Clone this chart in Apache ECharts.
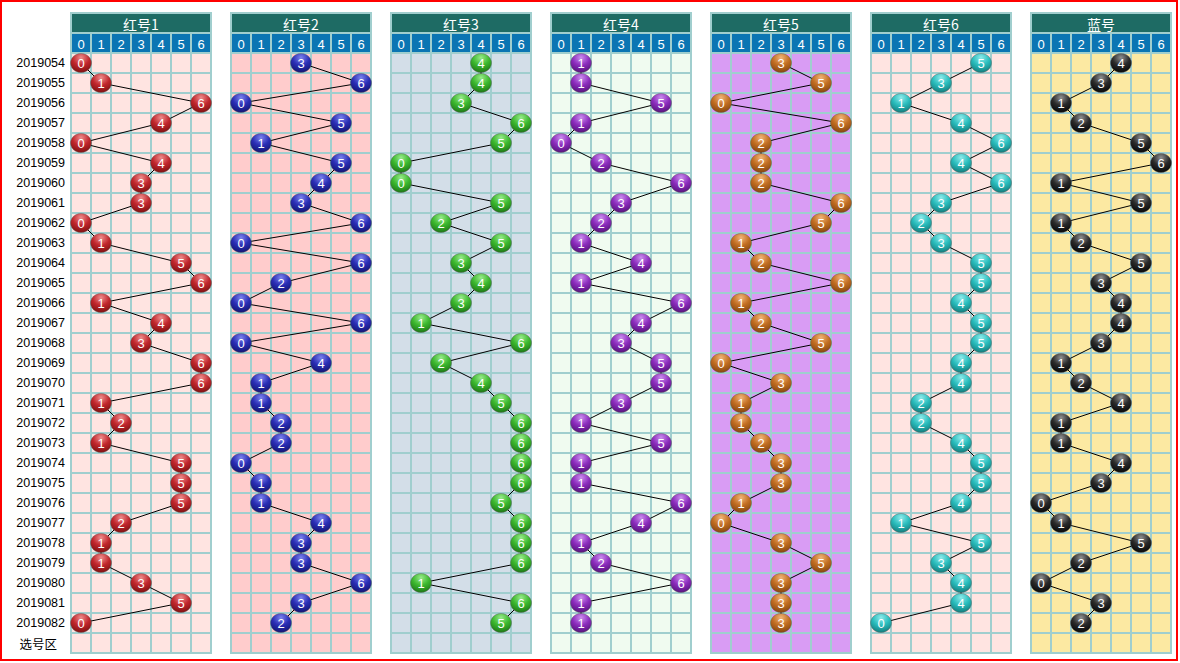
<!DOCTYPE html>
<html><head><meta charset="utf-8">
<script src="https://cdn.jsdelivr.net/npm/echarts@6/dist/echarts.min.js"></script>
<style>html,body{margin:0;padding:0;background:#fff}#c{width:1180px;height:663px}</style>
</head><body><div id="c"></div><script>
const periods = ['2019054','2019055','2019056','2019057','2019058','2019059','2019060','2019061','2019062','2019063','2019064','2019065','2019066','2019067','2019068','2019069','2019070','2019071','2019072','2019073','2019074','2019075','2019076','2019077','2019078','2019079','2019080','2019081','2019082'];
const footerLabel = '选号区';
const digits = ['0','1','2','3','4','5','6'];
const panelNames = ['红号1','红号2','红号3','红号4','红号5','红号6','蓝号'];
const red1 = [0,1,6,4,0,4,3,3,0,1,5,6,1,4,3,6,6,1,2,1,5,5,5,2,1,1,3,5,0];
const red2 = [3,6,0,5,1,5,4,3,6,0,6,2,0,6,0,4,1,1,2,2,0,1,1,4,3,3,6,3,2];
const red3 = [4,4,3,6,5,0,0,5,2,5,3,4,3,1,6,2,4,5,6,6,6,6,5,6,6,6,1,6,5];
const red4 = [1,1,5,1,0,2,6,3,2,1,4,1,6,4,3,5,5,3,1,5,1,1,6,4,1,2,6,1,1];
const red5 = [3,5,0,6,2,2,2,6,5,1,2,6,1,2,5,0,3,1,1,2,3,3,1,0,3,5,3,3,3];
const red6 = [5,3,1,4,6,4,6,3,2,3,5,5,4,5,5,4,4,2,2,4,5,5,4,1,5,3,4,4,0];
const blue = [4,3,1,2,5,6,1,5,1,2,5,3,4,4,3,1,2,4,1,1,4,3,0,1,5,2,0,3,2];
const panelValues = [red1, red2, red3, red4, red5, red6, blue];

const panelBg = ['#FFE4E1','#FFCCCC','#D3DEE8','#F0FBF0','#D99CF4','#FFE4E1','#FCE9A2'];
const ballColors = [
  ['#EE8C8C','#C1272D','#7E1010'],
  ['#7C82EE','#2A2EB5','#121470'],
  ['#98EA8A','#3CB82E','#1D7515'],
  ['#CC8EEE','#8C2DBD','#55127A'],
  ['#F0B478','#C26E22','#84450E'],
  ['#8EEAEA','#2ABDBD','#137A7A'],
  ['#909090','#2B2B2B','#050505']
];
const gridColor = '#A0CECE';
const yCats = ['__title','__digits'].concat(periods, [footerLabel]);

const chart = echarts.init(document.getElementById('c'), null, {renderer:'svg'});
const grids = [], xAxes = [], yAxes = [], series = [];
panelNames.forEach((name, k) => {
  grids.push({left: 71 + 160*k, top: 13, width: 140, height: 640, show: true,
    backgroundColor: panelBg[k], borderColor: gridColor, borderWidth: 2});
  xAxes.push({type:'category', gridIndex:k, data: digits, boundaryGap:true,
    axisLine:{show:false}, axisTick:{show:false}, axisLabel:{show:false},
    splitLine:{show:true, interval:0, lineStyle:{color:gridColor, width:2}}});
  yAxes.push({type:'category', gridIndex:k, data: yCats, inverse:true, boundaryGap:true,
    axisLine:{show:false}, axisTick:{show:false},
    axisLabel:{show: k===0, interval:0, margin:6, color:'#000', fontSize:12.5, fontFamily:'Liberation Sans',
      formatter: v => v.startsWith('__') ? '' : (v === footerLabel ? '{f|' + v + '}' : v),
      rich:{f:{fontSize:12.5, fontFamily:'Noto Sans CJK SC', color:'#000', padding:[0,8,0,0]}}},
    splitLine:{show:true, interval:0, lineStyle:{color:gridColor, width:2}}});
  const hdrData = digits.map((d, i) => [i, '__digits']).concat([[3, '__title']]);
  series.push({type:'custom', xAxisIndex:k, yAxisIndex:k, data: hdrData, z:3, silent:true,
    renderItem: (params, api) => {
      const c = api.coord([api.value(0), api.value(1)]);
      const s = api.size([1,1]);
      if (params.dataIndex === 7) {
        const cs = params.coordSys;
        return {type:'group', children:[
          {type:'rect', shape:{x: cs.x+1, y: c[1]-s[1]/2+1, width: cs.width-2, height: s[1]-2}, style:{fill:'#1E6B64'}},
          {type:'text', style:{text: name, x: cs.x + cs.width/2, y: c[1]+1, fill:'#fff', align:'center', verticalAlign:'middle', fontSize:14, fontFamily:'Noto Sans CJK SC'}}
        ]};
      }
      return {type:'group', children:[
        {type:'rect', shape:{x: c[0]-s[0]/2+1, y: c[1]-s[1]/2+1, width: s[0]-2, height: s[1]-2}, style:{fill:'#0B75B3'}},
        {type:'text', style:{text: digits[params.dataIndex], x: c[0], y: c[1]+1, fill:'#fff', align:'center', verticalAlign:'middle', fontSize:13, fontFamily:'Liberation Sans'}}
      ]};
    }});
  const bc = ballColors[k];
  series.push({type:'line', xAxisIndex:k, yAxisIndex:k, z:5,
    data: panelValues[k].map((v, i) => [v, periods[i]]),
    symbol:'circle', symbolSize:[21,19], showAllSymbol:true,
    lineStyle:{color:'#000', width:1},
    itemStyle:{color:{type:'radial', x:0.5, y:0.22, r:0.8, colorStops:[
      {offset:0, color:bc[0]}, {offset:0.5, color:bc[1]}, {offset:1, color:bc[2]}]},
      borderColor:'rgba(90,90,90,0.7)', borderWidth:0.6},
    label:{show:true, position:'inside', color:'#fff', fontSize:13, fontFamily:'Liberation Sans',
      formatter: p => digits[p.value[0]]},
    emphasis:{disabled:true}});
});

chart.setOption({
  animation:false,
  grid: grids, xAxis: xAxes, yAxis: yAxes, series: series,
  graphic:[{type:'rect', shape:{x:1, y:1, width:1176, height:659}, style:{fill:'none', stroke:'#FF0000', lineWidth:2}, z:100}]
});
</script></body></html>
